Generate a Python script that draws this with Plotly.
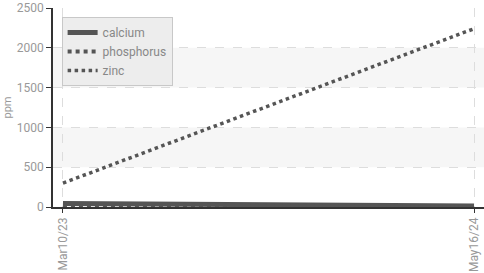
import plotly.graph_objects as go

dates = ["2023-03-10", "2024-05-16"]
tick_labels = ["Mar10/23", "May16/24"]
calcium = [45, 12]
phosphorus = [25, 8]
zinc = [300, 2240]

fig = go.Figure()
fig.add_trace(go.Scatter(x=dates, y=calcium, name="calcium", mode="lines",
                         line=dict(color="#555555", width=5)))
fig.add_trace(go.Scatter(x=dates, y=phosphorus, name="phosphorus", mode="lines",
                         line=dict(color="#555555", width=4, dash="dot")))
fig.add_trace(go.Scatter(x=dates, y=zinc, name="zinc", mode="lines",
                         line=dict(color="#555555", width=3.5, dash="dot")))

for y0, y1 in [(500, 1000), (1500, 2000)]:
    fig.add_shape(type="rect", xref="paper", yref="y", x0=0, x1=1, y0=y0, y1=y1,
                  fillcolor="#f6f6f6", line=dict(width=0), layer="below")

fig.update_layout(
    width=484, height=273,
    margin=dict(l=53, r=0, t=8, b=66),
    paper_bgcolor="white", plot_bgcolor="white",
    font=dict(family="Roboto", color="#999999", size=12),
    showlegend=True,
    legend=dict(x=0.02, y=0.955, xanchor="left", yanchor="top",
                bgcolor="rgba(236,236,236,0.95)", bordercolor="#c8c8c8", borderwidth=1,
                font=dict(size=12, color="#888888"), tracegroupgap=0,
                itemwidth=30),
    xaxis=dict(type="date", range=["2023-02-27 12:00", "2024-05-26 12:00"],
               tickvals=dates, ticktext=tick_labels, tickangle=-90,
               showgrid=True, gridcolor="#dddddd", griddash="dash", gridwidth=1,
               showline=True, linecolor="#333333", linewidth=1.5,
               ticks="outside", ticklen=4, tickcolor="#333333",
               zeroline=False, tickfont=dict(size=12, color="#999999")),
    yaxis=dict(range=[0, 2500], dtick=500, tick0=0,
               showgrid=True, gridcolor="#dddddd", griddash="dash", gridwidth=1,
               showline=True, linecolor="#333333", linewidth=1.5,
               ticks="outside", ticklen=5, tickcolor="#333333",
               zeroline=False, tickfont=dict(size=12, color="#999999"),
               title=dict(text="ppm", font=dict(size=11, color="#999999"), standoff=3)),
)

fig.write_html("out.html", config={"displayModeBar": False},
               post_script="document.body.style.margin='0';")
